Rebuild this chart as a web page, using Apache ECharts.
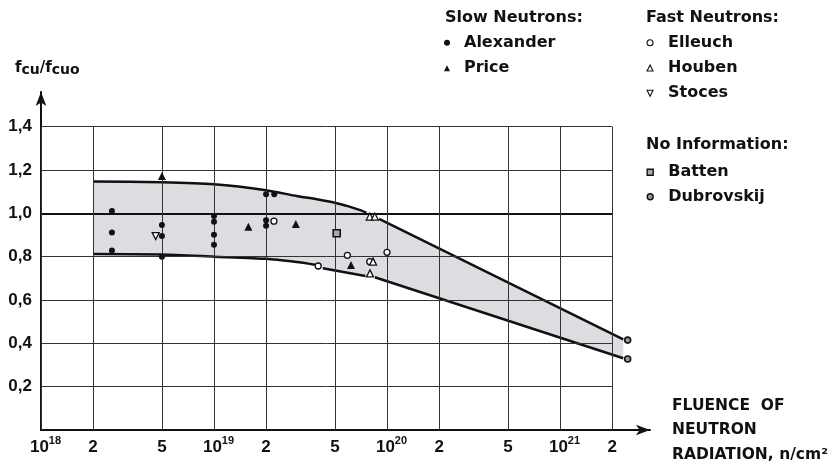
<!DOCTYPE html>
<html>
<head>
<meta charset="utf-8">
<script src="https://cdn.jsdelivr.net/npm/echarts@6/dist/echarts.min.js"></script>
<style>html,body{margin:0;padding:0;background:#fff;}#c{width:833px;height:468px;}</style>
</head>
<body>
<div id="c"></div>
<script>
// ---- tick values / labels ----
const xTickValues = [1e18, 2e18, 5e18, 1e19, 2e19, 5e19, 1e20, 2e20, 5e20, 1e21, 2e21];
const xTickLabels = ['10^18', '2', '5', '10^19', '2', '5', '10^20', '2', '5', '10^21', '2'];
const yTickValues = [0.2, 0.4, 0.6, 0.8, 1.0, 1.2, 1.4];
const yTickLabels = ['0,2', '0,4', '0,6', '0,8', '1,0', '1,2', '1,4'];

// ---- scatter band boundaries (fluence n/cm², f_cu/f_cuo) ----
const upperA = [[2e18, 1.147], [5e18, 1.143], [1e19, 1.134], [2e19, 1.107], [3e19, 1.08], [4e19, 1.064], [5e19, 1.049], [6e19, 1.032], [7e19, 1.015], [7.6e19, 1.003]];
const upperB = [[9e19, 0.974], [2.32e21, 0.418]];
const lowerA = [[2e18, 0.812], [5e18, 0.81], [1e19, 0.80], [2e19, 0.79], [3e19, 0.775], [3.83e19, 0.763]];
const lowerB = [[4.25e19, 0.747], [5.5e19, 0.73], [7.5e19, 0.711]];
const lowerC = [[8.5e19, 0.705], [2.32e21, 0.331]];

// ---- measured points ----
const alexander = [[2.57e18, 1.011], [2.57e18, 0.912], [2.57e18, 0.829], [5e18, 0.946], [5e18, 0.895], [5e18, 0.80], [1e19, 0.988], [1e19, 0.961], [1e19, 0.901], [1e19, 0.855], [2e19, 1.088], [2.23e19, 1.088], [2e19, 0.968], [2e19, 0.943]];
const price = [[5e18, 1.172], [1.58e19, 0.938], [2.97e19, 0.951], [6.19e19, 0.761]];
const elleuch = [[2.22e19, 0.964], [4.0e19, 0.757], [5.9e19, 0.806], [7.95e19, 0.777], [1e20, 0.82]];
const houben = [[7.95e19, 0.985], [8.5e19, 0.985], [8.3e19, 0.777], [7.97e19, 0.723]];
const stoces = [[4.6e18, 0.895]];
const batten = [[5.12e19, 0.908]];
const dubrovskij = [[2.46e21, 0.415], [2.46e21, 0.328]];

const L = v => Math.log10(v);
const toXY = arr => arr.map(p => [L(p[0]), p[1]]);
const INK = '#111';
const NUMFONT = 'Liberation Sans';
const TXTFONT = 'DejaVu Sans';
const xLogTicks = xTickValues.map(L);
const xGridMax = L(xTickValues[xTickValues.length - 1]);
const yGridMax = yTickValues[yTickValues.length - 1];
const DOWN_TRI = 'path://M0,0L10,0L5,10Z';

const band = upperA.concat(upperB).concat(lowerC.slice().reverse()).concat(lowerB.slice().reverse()).concat(lowerA.slice().reverse());

const gridLines = [];
yTickValues.forEach(v => {
  gridLines.push([{coord: [xLogTicks[0], v], lineStyle: {width: v === 1.0 ? 2 : 1, color: v === 1.0 ? INK : '#333'}}, {coord: [xGridMax, v]}]);
});
xLogTicks.forEach(x => {
  gridLines.push([{coord: [x, 0]}, {coord: [x, yGridMax]}]);
});

function xLabel(v) {
  let best = 0, d = 1e9;
  xLogTicks.forEach((t, i) => { if (Math.abs(t - v) < d) { d = Math.abs(t - v); best = i; } });
  const s = xTickLabels[best];
  if (s.indexOf('^') >= 0) {
    const p = s.split('^');
    return '{p|' + p[0] + '}{s|' + p[1] + '}';
  }
  return '{b|' + s + '}';
}
function yLabel(v) {
  let best = 0, d = 1e9;
  yTickValues.forEach((t, i) => { if (Math.abs(t - v) < d) { d = Math.abs(t - v); best = i; } });
  return yTickLabels[best];
}

function boundary(data, smooth) {
  return {type: 'line', data: toXY(data), symbol: 'none', smooth: smooth, z: 4, silent: true,
    lineStyle: {color: INK, width: 2.5}, animation: false};
}
const FILLED = {color: INK, opacity: 1};
const OPEN = {color: '#fff', borderColor: INK, borderWidth: 1.3, opacity: 1};
function pts(name, data, symbol, size, style, extra) {
  return Object.assign({
    name: name, type: 'scatter', data: toXY(data), symbol: symbol, symbolSize: size, z: 6,
    itemStyle: style
  }, extra || {});
}

const legendText = {fontFamily: TXTFONT, fontWeight: 'bold', fontSize: 16, color: INK, lineHeight: 20};
const lgOpen = {color: '#fff', borderColor: INK, borderWidth: 1.1, opacity: 1};

const chart = echarts.init(document.getElementById('c'), null, {renderer: 'canvas'});
chart.setOption({
  animation: false,
  backgroundColor: '#fff',
  title: {
    text: '{f|f}{s|cu}{f|/f}{s|cuo}', left: 15, top: 58, padding: 0,
    textStyle: {rich: {
      f: {fontFamily: TXTFONT, fontWeight: 'bold', fontSize: 15, color: INK, lineHeight: 20},
      s: {fontFamily: TXTFONT, fontWeight: 'bold', fontSize: 14, color: INK, lineHeight: 18, padding: [4, 0, 0, 0]}
    }}
  },
  grid: {left: 41, right: 183, top: 92, bottom: 38, containLabel: false},
  xAxis: {
    type: 'value', min: 18, max: 21.52,
    axisLine: {show: true, lineStyle: {color: INK, width: 2}, symbol: ['none', 'arrow'], symbolSize: [8, 14]},
    axisTick: {show: false}, splitLine: {show: false},
    axisLabel: {
      customValues: xLogTicks, margin: 5, formatter: xLabel,
      rich: {
        b: {fontFamily: NUMFONT, fontWeight: 'bold', fontSize: 17, lineHeight: 25, color: INK},
        p: {fontFamily: NUMFONT, fontWeight: 'bold', fontSize: 17, lineHeight: 25, color: INK, padding: [0, 0, 0, 9]},
        s: {fontFamily: NUMFONT, fontWeight: 'bold', fontSize: 11, lineHeight: 11, color: INK, padding: [0, 0, 14, 0]}
      }
    },
    name: 'FLUENCE  OF\nNEUTRON\nRADIATION, n/cm²', nameLocation: 'end', nameGap: 22,
    nameTextStyle: {fontFamily: TXTFONT, fontWeight: 'bold', fontSize: 15.5, lineHeight: 24.5, color: INK, align: 'left', verticalAlign: 'middle'}
  },
  yAxis: {
    type: 'value', min: 0, max: 1.56,
    axisLine: {show: true, lineStyle: {color: INK, width: 2}, symbol: ['none', 'arrow'], symbolSize: [8, 14]},
    axisTick: {show: false}, splitLine: {show: false},
    axisLabel: {customValues: yTickValues, margin: 9, formatter: yLabel,
      fontFamily: NUMFONT, fontWeight: 'bold', fontSize: 17, color: INK}
  },
  legend: [
    {data: [
        {name: 'Alexander', icon: 'circle', itemStyle: FILLED},
        {name: 'Price', icon: 'triangle', itemStyle: FILLED}],
      orient: 'vertical', left: 444, top: 32.7, padding: 0, itemGap: 5.5,
      itemWidth: 6, itemHeight: 6, selectedMode: false, textStyle: Object.assign({padding: [0, 0, 0, 9]}, legendText)},
    {data: [
        {name: 'Elleuch', icon: 'circle', itemStyle: lgOpen},
        {name: 'Houben', icon: 'triangle', itemStyle: lgOpen},
        {name: 'Stoces', icon: DOWN_TRI, itemStyle: lgOpen}],
      orient: 'vertical', left: 646.5, top: 32.7, padding: 0, itemGap: 5.3,
      itemWidth: 6, itemHeight: 6, selectedMode: false, textStyle: Object.assign({padding: [0, 0, 0, 10]}, legendText)},
    {data: [
        {name: 'Batten', icon: 'rect', itemStyle: {color: '#aaa', borderColor: INK, borderWidth: 1.4, opacity: 1}},
        {name: 'Dubrovskij', icon: 'circle', itemStyle: {color: '#999', borderColor: INK, borderWidth: 1.4, opacity: 1}}],
      orient: 'vertical', left: 646.5, top: 162.3, padding: 0, itemGap: 4.4,
      itemWidth: 6, itemHeight: 6, selectedMode: false, textStyle: Object.assign({padding: [0, 0, 0, 10]}, legendText)}
  ],
  graphic: [
    {type: 'text', x: 445, y: 18, style: {text: 'Slow Neutrons:', font: 'bold 16px "DejaVu Sans"', fill: INK, verticalAlign: 'middle'}},
    {type: 'text', x: 646, y: 18, style: {text: 'Fast Neutrons:', font: 'bold 16px "DejaVu Sans"', fill: INK, verticalAlign: 'middle'}},
    {type: 'text', x: 646, y: 145, style: {text: 'No Information:', font: 'bold 16px "DejaVu Sans"', fill: INK, verticalAlign: 'middle'}}
  ],
  series: [
    {type: 'custom', z: 1, silent: true, data: [[19, 1]],
      renderItem: function (params, api) {
        const points = band.map(p => api.coord([L(p[0]), p[1]]));
        return {type: 'polygon', shape: {points: points}, style: {fill: '#dcdce1'}};
      }},
    {type: 'line', z: 3, silent: true, data: [[18, 0]], symbol: 'none', lineStyle: {opacity: 0},
      markLine: {silent: true, symbol: ['none', 'none'], label: {show: false}, animation: false,
        lineStyle: {type: 'solid', color: '#333', width: 1}, emphasis: {disabled: true}, data: gridLines}},
    boundary(upperA, 0.2), boundary(upperB, false),
    boundary(lowerA, 0.2), boundary(lowerB, false), boundary(lowerC, false),
    pts('Alexander', alexander, 'circle', 6, FILLED),
    pts('Price', price, 'triangle', 8, FILLED),
    pts('Elleuch', elleuch, 'circle', 6, OPEN),
    pts('Houben', houben, 'triangle', 7, OPEN),
    pts('Stoces', stoces, DOWN_TRI, 7, OPEN),
    pts('Batten', batten, 'rect', 7, {color: '#aaa', borderColor: INK, borderWidth: 1.6, opacity: 1}),
    pts('Dubrovskij', dubrovskij, 'circle', 6, {color: '#999', borderColor: INK, borderWidth: 1.6, opacity: 1})
  ]
});
</script>
</body>
</html>
